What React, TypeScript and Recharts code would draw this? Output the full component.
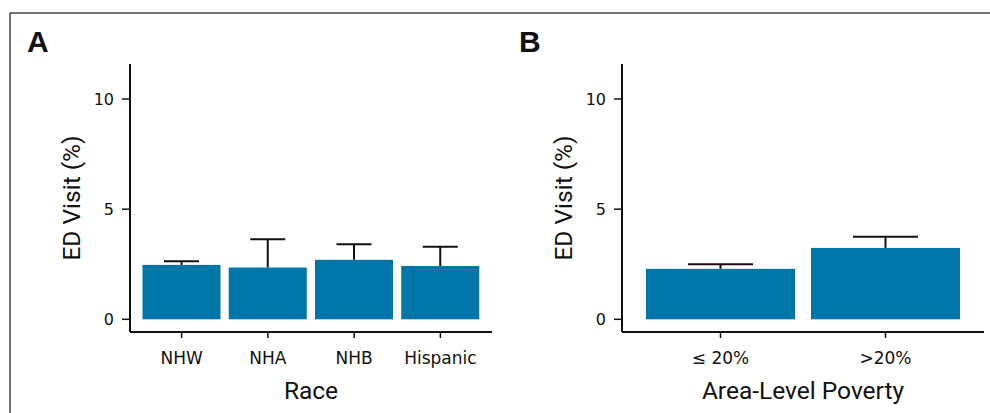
import { BarChart, Bar, XAxis, YAxis } from "recharts";

const raceCategories = ["NHW", "NHA", "NHB", "Hispanic"];
const raceVisits = [2.47, 2.35, 2.7, 2.42];
const raceUpper = [2.64, 3.64, 3.41, 3.29];

const povertyCategories = ["≤ 20%", ">20%"];
const povertyVisits = [2.29, 3.24];
const povertyUpper = [2.5, 3.75];

const yTicks = [0, 5, 10];

const BAR_COLOR = "#0076a8";
const INK = "#111";

const raceData = raceCategories.map((name, i) => ({
  name,
  visit: raceVisits[i],
  upper: raceUpper[i],
}));

const povertyData = povertyCategories.map((name, i) => ({
  name,
  visit: povertyVisits[i],
  upper: povertyUpper[i],
}));

// bar with the upper whisker only (lower half sits behind the bar)
const whiskerBar = (capWidth: number) => (props: any) => {
  const { x, y, width, height, payload, fill } = props;
  const perUnit = height / payload.visit;
  const topY = y - (payload.upper - payload.visit) * perUnit;
  const cx = x + width / 2;
  return (
    <g>
      <line x1={cx} x2={cx} y1={y} y2={topY} stroke={INK} strokeWidth={2} />
      <line x1={cx - capWidth / 2} x2={cx + capWidth / 2} y1={topY} y2={topY} stroke={INK} strokeWidth={2} />
      <rect x={x} y={y} width={width} height={height} fill={fill} />
    </g>
  );
};

type PanelProps = {
  data: { name: string; visit: number; upper: number }[];
  left: number;
  marginLeft: number;
  marginRight: number;
  pad: number;
  barSize: number;
  capWidth: number;
  xTitle: string;
};

function Panel({ data, left, marginLeft, marginRight, pad, barSize, capWidth, xTitle }: PanelProps) {
  return (
    <div style={{ position: "absolute", left, top: 0 }}>
      <BarChart
        width={495}
        height={413}
        data={data}
        margin={{ top: 64, right: marginRight, bottom: 0, left: marginLeft }}
      >
        <XAxis
          dataKey="name"
          height={81}
          interval={0}
          padding={{ left: pad, right: pad }}
          tickSize={6}
          tickMargin={14}
          axisLine={{ stroke: INK, strokeWidth: 2 }}
          tickLine={{ stroke: INK, strokeWidth: 1.5 }}
          tick={{ fill: INK, fontSize: 17, fontFamily: "DejaVu Sans" }}
          label={{
            value: xTitle,
            position: "insideBottom",
            offset: 14,
            fill: INK,
            fontSize: 24.5,
            fontFamily: "Roboto",
          }}
        />
        <YAxis
          width={118}
          type="number"
          domain={[-0.576, 11.59]}
          allowDataOverflow
          ticks={yTicks}
          tickSize={8}
          tickMargin={8}
          axisLine={{ stroke: INK, strokeWidth: 2 }}
          tickLine={{ stroke: INK, strokeWidth: 1.5 }}
          tick={{ fill: INK, fontSize: 16, fontFamily: "DejaVu Sans" }}
          label={{
            value: "ED Visit (%)",
            angle: -90,
            position: "center",
            fill: INK,
            fontSize: 24.5,
            fontFamily: "Roboto",
          }}
        />
        <Bar
          dataKey="visit"
          fill={BAR_COLOR}
          barSize={barSize}
          isAnimationActive={false}
          shape={whiskerBar(capWidth)}
        />
      </BarChart>
    </div>
  );
}

export default function App() {
  return (
    <div
      style={{
        position: "absolute",
        left: 0,
        top: 0,
        width: 990,
        height: 413,
        background: "#fff",
        overflow: "hidden",
      }}
    >
      <Panel
        data={raceData}
        left={0}
        marginLeft={12}
        marginRight={3}
        pad={8.5}
        barSize={78}
        capWidth={35}
        xTitle="Race"
      />
      <Panel
        data={povertyData}
        left={495}
        marginLeft={9}
        marginRight={6}
        pad={16}
        barSize={149}
        capWidth={65}
        xTitle="Area-Level Poverty"
      />
      <svg
        width={990}
        height={413}
        style={{ position: "absolute", left: 0, top: 0, pointerEvents: "none" }}
      >
        <line x1={10} x2={990} y1={13} y2={13} stroke="#444" strokeWidth={1.5} />
        <line x1={10} x2={10} y1={13} y2={413} stroke="#444" strokeWidth={1.5} />
        <text x={27} y={52} fontSize={30} fontWeight="bold" fontFamily="Liberation Sans" fill={INK}>
          A
        </text>
        <text x={519} y={52} fontSize={30} fontWeight="bold" fontFamily="Liberation Sans" fill={INK}>
          B
        </text>
      </svg>
    </div>
  );
}
